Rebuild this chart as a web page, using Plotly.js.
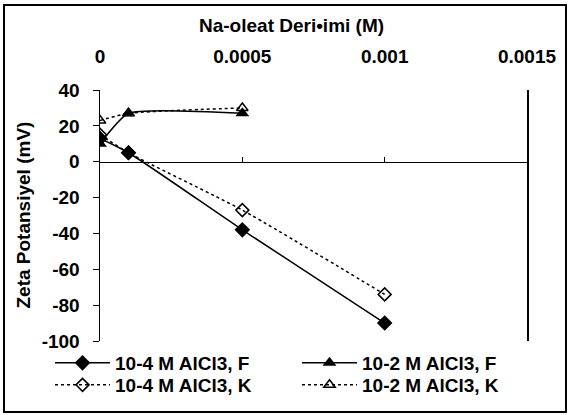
<!DOCTYPE html>
<html>
<head>
<meta charset="utf-8">
<script src="https://cdn.plot.ly/plotly-3.0.1.min.js"></script>
<style>html,body{margin:0;padding:0;background:#fff;}#chart{width:570px;height:415px;}</style>
</head>
<body>
<div id="chart"></div>
<script>
// Data
const conc4 = [0, 0.0001, 0.0005, 0.001];
const conc2 = [0, 0.0001, 0.0005];
const zeta4F = [13, 5, -38, -90];
const zeta4K = [15, 5, -27, -74];
const zeta2F = [10, 27, 27];
const zeta2K = [23, 27, 30];
const names = ["10-4 M AlCl3, F", "10-2 M AlCl3, F", "10-4 M AlCl3, K", "10-2 M AlCl3, K"];
const xTickVals = [0, 0.0005, 0.001, 0.0015];
const xTickText = ["0", "0.0005", "0.001", "0.0015"];
const yTickVals = [40, 20, 0, -20, -40, -60, -80, -100];
const yTickText = ["40", "20", "0", "-20", "-40", "-60", "-80", "-100"];
const xTitle = "Na-oleat Deri\u2022imi (M)";
const yTitle = "Zeta Potansiyel (mV)";

const FONT = "Liberation Sans, Arial, sans-serif";

const traces = [
  {x: conc4, y: zeta4F, name: names[0], mode: "lines+markers", legend: "legend",
   line: {color: "#000", width: 1.5, shape: "spline", smoothing: 0.6},
   marker: {symbol: "diamond", size: 12, color: "#000"}},
  {x: conc2, y: zeta2F, name: names[1], mode: "lines+markers", legend: "legend",
   line: {color: "#000", width: 1.5, shape: "spline", smoothing: 0.5},
   marker: {symbol: "triangle-up", size: 12, color: "#000"}},
  {x: conc4, y: zeta4K, name: names[2], mode: "lines+markers", legend: "legend2",
   line: {color: "#000", width: 1.5, dash: "dot", shape: "spline", smoothing: 0.6},
   marker: {symbol: "diamond-open", size: 10, color: "#000", line: {width: 1.5}}},
  {x: conc2, y: zeta2K, name: names[3], mode: "lines+markers", legend: "legend2",
   line: {color: "#000", width: 1.5, dash: "dot", shape: "spline", smoothing: 0.5},
   marker: {symbol: "triangle-up-open", size: 10, color: "#000", line: {width: 1.5}}}
];

const legendBase = {
  orientation: "h", x: -50/427, xanchor: "left", yanchor: "top",
  entrywidth: 177, entrywidthmode: "pixels", tracegroupgap: 0,
  font: {family: FONT, size: 19, weight: "bold"}, itemwidth: 55, bgcolor: "rgba(0,0,0,0)"
};

const layout = {
  width: 570, height: 415,
  margin: {l: 100, r: 43, t: 90, b: 74, autoexpand: false},
  paper_bgcolor: "#fff", plot_bgcolor: "#fff",
  font: {family: FONT, size: 19, color: "#000", weight: "bold"},
  showlegend: true,
  xaxis: {
    side: "top", range: [0, 0.0015], tickvals: xTickVals, ticktext: xTickText,
    showgrid: false, zeroline: false, showline: false, ticks: "",
    ticklabelstandoff: 22
  },
  xaxis2: {
    overlaying: "x", matches: "x", anchor: "free", position: 100/140, side: "bottom",
    range: [0, 0.0015], tickvals: xTickVals, showticklabels: false,
    showgrid: false, zeroline: false, showline: true, linecolor: "#000", linewidth: 1,
    ticks: "inside", ticklen: 5, tickcolor: "#000"
  },
  yaxis: {
    range: [-100, 40], tickvals: yTickVals, ticktext: yTickText, showgrid: false, zeroline: false,
    showline: true, mirror: true, linecolor: "#000", linewidth: 1.5,
    ticks: "outside", ticklen: 6, tickcolor: "#000", ticklabelstandoff: 9
  },
  legend: Object.assign({}, legendBase, {y: -3/251}),
  legend2: Object.assign({}, legendBase, {y: -25/251}),
  annotations: [
    {text: xTitle, xref: "paper", yref: "paper", x: 191/427, y: 316/251,
     xanchor: "center", yanchor: "middle", showarrow: false,
     font: {family: FONT, size: 19, weight: "bold", color: "#000"}},
    {text: yTitle, xref: "paper", yref: "paper", x: -77/427, y: 0.5, textangle: -90,
     xanchor: "center", yanchor: "middle", showarrow: false,
     font: {family: FONT, size: 19, weight: "bold", color: "#000"}}
  ],
  shapes: [{
    type: "rect", xref: "paper", yref: "paper",
    x0: -0.2248, x1: 1.0913, y0: -0.2829, y1: 1.3386,
    line: {color: "#000", width: 2}
  }]
};

// invisible helper trace so xaxis2 (the y=0 axis line with ticks) is drawn
traces.push({x: [0], y: [0], xaxis: "x2", yaxis: "y", mode: "markers",
  marker: {opacity: 0}, showlegend: false, hoverinfo: "skip"});

Plotly.newPlot("chart", traces, layout, {displayModeBar: false, staticPlot: true});
</script>
</body>
</html>
